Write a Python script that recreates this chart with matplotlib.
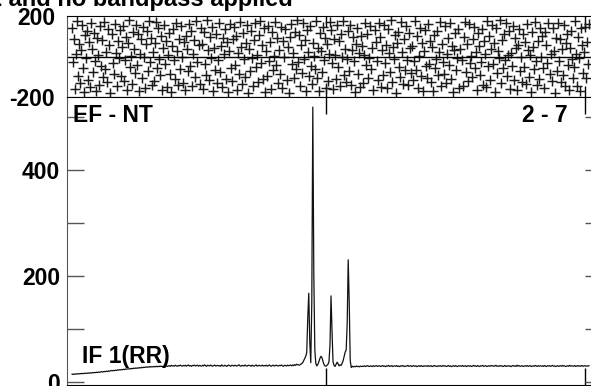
import numpy as np
import matplotlib
matplotlib.use("Agg")
import matplotlib.pyplot as plt

# ---------- datos ----------
# fase (grados) por canal, panel superior
phases = [
    143, -27, 88, -161, 12, 175, -94, 61, -132, 30, 157, -58, -173, 104, -9, 126,
    -115, 71, -150, 166, 39, -76, 118, -22, -168, 93, 5, -139, 149, -47, 82, -101,
    170, -64, 24, -126, 137, 55, -179, 110, -33, -88, 162, 17, -145, 76, -6, 131,
    -97, 48, 153, -119, -15, 98, -163, 66, 179, -52, 2, -134, 121, 35, -81, 158,
    -40, 109, -171, 14, 85, -108, 146, -3, -157, 60, 128, -70, 177, -29, 92, -141,
    21, -123, 68, 171, -55, 139, -12, -90, 103, -166, 44, 155, -38, 79, -153, 8,
    116, -84, -176, 51, 134, -19, -111, 164, 27, -143, 87, -61, 150, -2, -129, 73,
    -167, 99, 37, -74, 160, -45, 125, -148, 11, 81, -102, 173, -25, 57, -136, 141,
    63, -159, 119, -35, -92, 178, 31, -117, 95, -7, 148, -170, 42, -66, 112, -130,
    -18, 167, -79, 52, -152, 90, 13, 136, -109, 70, -174, 28, 159, -57, -121, 84,
    145, -41, 101, -165, 19, -87, 172, 47, -138, 115, -14, -99, 65, 154, -178, 36,
    -72, 127, -8, -146, 83, 163, -50, 9, -127, 106, 175, -31, 58, -112, 140, -175,
    25, -95, 152, -20, 74, -160, 120, -67, 1, 168, -43, 89, -133, 33, -85, 147,
    -155, 78, -4, 135, -118, 46, -180, 97, 161, -36, 16, -104, 123, -62, 180, -26,
    107, -144, 56, -82, 165, -11, 80, -169, 132, 23, -98, 151, -48, -137, 67, 4,
    -60, 174, -105, 41, -172, 117, 29, -78, 144, -16, 91, -156, 62, -120, 10, 169,
    130, -34, -162, 86, 6, -113, 158, -53, 75, -147, 113, -1, 176, -91, 38, -128,
    -10, 124, -71, 156, -140, 34, 96, -24, -177, 64, 142, -86, 18, -151, 102, 50,
    -131, 7, 166, -44, 111, -107, -5, 149, -63, 43, -164, 129, 72, -21, -116, 163,
    94, -149, 32, -93, 157, -30, 59, -158, 138, 15, -75, 178, -124, 49, -13, 105,
    -179, 69, 122, -54, -100, 170, 22, -135, 85, -68, 153, -17, -142, 114, 40, -83,
    53, -114, -23, 177, -65, 100, -154, 3, 143, -96, 67, -170, 26, 133, -49, -106,
    161, -37, 77, -125, 45, -168, 108, -56, -11, 126, -89, 20, 172, -144, 61, -28,
    -86, 150, -131, 11, 93, -42, 166, -110, 54, -173, 30, 118, -69, -8, 137, -157,
    39, -15, -145, 98, 171, -77, 63, -122, 159, -33, 4, -103, 87, 146, -59, 24,
    -166, 117, 50, -92, -27, 134, -139, 76, 13, -150, 174, -46, 99, -115, 35, 155,
    -39, 66, -176, 140, -80, 28, -9, 179, -132, 82, -58, 109, -19, 164, -97, 8,
    127, -162, 18, -47, 151, -118, 90, 42, -167, 58, 135, -73, -4, -126, 112, -51,
    71, -137, 160, 33, -100, 6, -175, 123, 48, -64, 170, -22, -141, 79, -112, 143,
    -3, 103, -59, -158, 121, 55, -34, 167, -88, 14, -121, 141, 26, -180, 92, -71,
    165, -20, 84, -128, 37, -91, 154, -148, 69, 113, -41, -163, 44, 128, -13, -104,
    -54, 176, 10, -146, 96, -5, -170, 139, 58, -80, 22, 148, -108, 74, -35, 162,
]

# amplitud por canal, panel inferior
amps = [
    14.5, 13.8, 14.9, 14.2, 15.1, 14.6, 15.4, 14.8, 15.6, 15.2, 16.0, 15.3, 15.9, 16.4, 15.7, 16.3,
    16.8, 16.1, 17.0, 16.6, 17.4, 16.9, 17.7, 17.2, 18.1, 17.5, 18.4, 17.8, 18.6, 19.2, 18.5, 19.0,
    19.6, 19.1, 20.0, 19.4, 20.5, 20.0, 20.8, 21.4, 20.7, 21.6, 21.1, 22.0, 21.5, 22.4, 22.0, 22.9,
    22.4, 23.3, 22.8, 23.7, 23.1, 24.2, 23.6, 24.5, 24.0, 25.1, 24.4, 25.3, 24.8, 25.8, 25.2, 26.0,
    25.5, 26.4, 25.9, 26.8, 26.2, 27.3, 26.6, 27.5, 27.0, 28.1, 27.4, 28.3, 27.6, 28.7, 27.9, 28.5,
    28.2, 29.0, 28.1, 29.4, 28.4, 29.1, 28.6, 29.8, 28.8, 29.3, 28.5, 29.9, 29.0, 30.2, 29.1, 29.7,
    30.4, 29.2, 31.0, 29.8, 30.6, 29.5, 31.3, 30.1, 29.4, 30.8, 29.9, 31.5, 30.2, 29.6, 30.9, 30.0,
    31.2, 29.7, 30.5, 31.8, 29.9, 30.7, 29.3, 31.0, 30.3, 31.6, 29.8, 30.6, 31.4, 29.5, 30.9, 30.2,
    29.6, 31.1, 30.0, 32.0, 30.4, 29.2, 31.3, 30.7, 29.9, 31.7, 30.1, 29.4, 30.8, 31.5, 29.7, 30.5,
    31.0, 29.8, 30.6, 29.3, 31.9, 30.2, 29.6, 31.2, 30.4, 29.1, 30.9, 31.6, 30.0, 29.5, 31.3, 30.7,
    29.9, 31.4, 30.3, 29.7, 30.8, 32.1, 30.1, 29.4, 31.0, 30.5, 29.8, 31.7, 30.2, 29.6, 30.9, 31.2,
    30.4, 29.3, 31.5, 30.0, 29.7, 30.8, 31.9, 29.5, 30.6, 31.1, 29.9, 30.3, 31.4, 29.8, 30.7, 30.0,
    31.3, 29.6, 30.5, 31.8, 30.1, 29.4, 30.9, 31.2, 29.7, 30.6, 31.5, 30.2, 29.9, 31.0, 30.4, 31.7,
    30.0, 29.5, 31.1, 30.7, 29.8, 31.4, 30.3, 30.9, 31.6, 30.2, 31.8, 30.5, 32.4, 31.0, 33.2, 32.1,
    32.0, 31.5, 33.0, 34.5, 36.0, 40.0, 44.0, 48.0, 55.0, 120.0, 167.0, 75.0, 36.0, 150.0, 518.0, 200.0,
    60.0, 34.0, 30.0, 33.0, 38.0, 44.0, 48.0, 46.0, 39.0, 33.0, 30.0, 29.5, 31.0, 33.0, 38.0, 70.0,
    162.0, 95.0, 38.0, 31.0, 29.0, 33.0, 37.0, 34.0, 30.0, 32.0, 31.0, 35.0, 40.0, 48.0, 56.0, 60.0,
    110.0, 230.0, 150.0, 40.0, 27.0, 29.5, 28.0, 29.0, 28.5, 29.8, 28.7, 29.3, 28.2, 29.6, 28.9, 29.4,
    29.1, 30.2, 28.8, 29.7, 30.5, 29.3, 28.9, 30.1, 29.6, 28.7, 30.4, 29.2, 29.9, 30.6, 29.0, 29.8,
    30.3, 28.9, 29.5, 30.7, 29.1, 29.8, 28.6, 30.2, 29.4, 30.9, 29.0, 29.6, 30.4, 28.8, 29.9, 30.1,
    29.3, 30.6, 29.0, 29.7, 28.7, 30.3, 29.5, 30.8, 29.2, 28.9, 30.0, 29.6, 31.0, 29.1, 29.8, 30.4,
    28.8, 29.9, 30.5, 29.3, 30.1, 28.6, 29.7, 30.2, 29.0, 30.7, 29.4, 28.9, 30.3, 29.6, 30.0, 29.2,
    30.6, 29.1, 29.8, 30.4, 28.7, 29.5, 30.9, 29.3, 29.9, 28.8, 30.2, 29.6, 30.5, 29.0, 29.7, 30.8,
    29.4, 30.1, 28.9, 29.6, 30.7, 29.2, 30.0, 28.6, 29.8, 30.3, 29.1, 30.6, 29.5, 28.8, 30.2, 29.7,
    30.0, 29.3, 30.8, 29.1, 29.6, 30.4, 28.7, 29.9, 30.5, 29.2, 30.1, 28.9, 29.7, 31.1, 29.4, 30.2,
    29.0, 30.6, 29.5, 28.8, 30.3, 29.7, 30.9, 29.1, 29.8, 30.4, 28.9, 29.6, 30.2, 29.3, 30.7, 29.9,
    30.5, 29.2, 29.8, 31.2, 29.4, 30.0, 29.1, 30.6, 29.7, 30.3, 28.8, 29.5, 30.9, 29.0, 29.6, 30.4,
    29.3, 30.1, 28.7, 29.9, 30.8, 29.4, 30.2, 29.0, 31.4, 29.6, 30.5, 29.2, 29.8, 30.3, 28.9, 29.7,
    30.2, 29.5, 30.7, 29.1, 29.9, 30.4, 28.8, 29.6, 30.1, 29.3, 30.9, 29.7, 29.0, 30.5, 29.4, 30.0,
    29.6, 30.3, 29.0, 30.8, 29.5, 28.9, 30.2, 29.8, 30.6, 29.2, 29.9, 31.0, 29.4, 30.1, 28.8, 29.7,
    30.4, 29.1, 29.8, 30.5, 29.3, 30.9, 29.6, 30.0, 28.9, 29.7, 30.3, 29.2, 31.1, 29.5, 30.2, 29.8,
    29.4, 30.6, 29.0, 29.9, 30.7, 29.3, 30.1, 29.6, 30.8, 29.2, 29.8, 30.4, 29.5, 30.0, 29.7, 30.3,
]

first_chan = 5
x_ticks = [256, 512]
phase_ticks = [-200, 200]
amp_major = [0, 200, 400]
amp_minor = [100, 300, 500]

title = "Calibrated with CL 1 and no bandpass applied"
baseline_lbl = "EF - NT"
chan_lbl = "2 - 7"
if_lbl = "IF 1(RR)"

plt.rcParams['font.family'] = ['Liberation Sans', 'DejaVu Sans']
plt.rcParams['font.weight'] = 'bold'
fs = 16.5

chans = np.arange(first_chan, first_chan + len(amps))

W, H = 591, 386
fig = plt.figure(figsize=(W / 100, H / 100), dpi=100)

def box(l, t, r, b):
    return [l / W, 1 - b / H, (r - l) / W, (b - t) / H]

# ---------- panel superior: fase ----------
ax_ph = fig.add_axes(box(67, 16, 593, 97))
ax_ph.plot(chans, phases, linestyle='none', marker='+', markersize=7,
           markeredgewidth=1.05, color='#1a1a1a')
ax_ph.axhline(0, color='black', lw=1.0)
ax_ph.set_xlim(0, 520)
ax_ph.set_ylim(-200, 200)
ax_ph.set_yticks(phase_ticks)
ax_ph.set_yticklabels([str(v) for v in phase_ticks], fontsize=fs, fontweight='bold')
ax_ph.set_xticks(x_ticks)
ax_ph.set_xticklabels([])
ax_ph.tick_params(axis='y', length=0, pad=8.5)
ax_ph.tick_params(axis='x', direction='in', length=8, width=1, top=True, bottom=True)
ax_ph.spines['left'].set_color('#555555')

# ---------- panel inferior: amplitud ----------
ax_am = fig.add_axes(box(67, 97, 593, 385))
ax_am.plot(chans, amps, color='#111111', lw=0.9)
ax_am.set_xlim(0, 520)
ax_am.set_ylim(-6, 537)
ax_am.set_yticks(amp_major)
ax_am.set_yticklabels([str(v) for v in amp_major], fontsize=fs, fontweight='bold')
ax_am.set_yticks(amp_minor, minor=True)
ax_am.set_xticks(x_ticks)
ax_am.set_xticklabels([])
ax_am.tick_params(axis='y', which='both', direction='in', length=12, width=1,
                  left=True, right=False, pad=5, colors='#555555', labelcolor='black')
ax_am.tick_params(axis='x', direction='in', length=12, width=1, top=True, bottom=True)
ax_am.spines['left'].set_color('#555555')

# ticks cortos del lado derecho
ax_r = ax_am.twinx()
ax_r.set_ylim(ax_am.get_ylim())
ax_r.set_yticks(amp_major + amp_minor)
ax_r.set_yticklabels([])
ax_r.tick_params(axis='y', direction='in', length=6, width=1, colors='#555555')
for s in ax_r.spines.values():
    s.set_visible(False)

ax_am.text(73 / W, 1 - 115 / H, baseline_lbl, transform=fig.transFigure,
           fontsize=fs, fontweight='bold', ha='left', va='center')
ax_am.text(568 / W, 1 - 115 / H, chan_lbl, transform=fig.transFigure,
           fontsize=fs, fontweight='bold', ha='right', va='center')
ax_am.text(82 / W, 1 - 357 / H, if_lbl, transform=fig.transFigure,
           fontsize=fs, fontweight='bold', ha='left', va='center')

fig.text(293 / W, 1 - 6 / H, title, fontsize=17, fontweight='bold',
         ha='right', va='baseline')

fig.savefig('out.png', dpi=100)
